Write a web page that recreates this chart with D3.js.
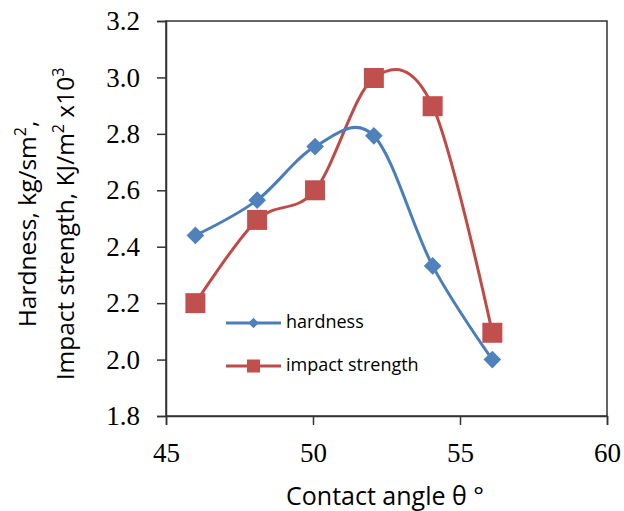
<!DOCTYPE html>
<html><head><meta charset="utf-8">
<script src="https://cdn.jsdelivr.net/npm/d3@7"></script>
<style>body{margin:0;background:#fff}svg{display:block}</style>
</head><body>
<svg id="c" width="624" height="511"></svg>
<script>
const angles = [46, 48.1, 50.07, 52.07, 54.07, 56.1];
const hardness = [2.44, 2.565, 2.755, 2.793, 2.332, 2.0];
const impact = [2.2, 2.495, 2.6, 2.998, 2.898, 2.095];
const xTicks = [45, 50, 55, 60];
const yTicks = [1.8, 2.0, 2.2, 2.4, 2.6, 2.8, 3.0, 3.2];
const seriesNames = ["hardness", "impact strength"];

const svg = d3.select("#c");
const x = d3.scaleLinear().domain([45, 60]).range([166, 607]);
const y = d3.scaleLinear().domain([1.8, 3.2]).range([416, 21]);

const serif = "'Liberation Serif','Times New Roman',serif";
const sans = "'Open Sans','Noto Sans',sans-serif";

// frame
svg.append("rect").attr("x", x(45)).attr("y", y(3.2))
  .attr("width", x(60) - x(45)).attr("height", y(1.8) - y(3.2))
  .attr("fill", "none").attr("stroke", "#333").attr("stroke-width", 1.5);

const yAxis = svg.append("g").attr("transform", `translate(${x(45)},0)`)
  .call(d3.axisLeft(y).tickValues(yTicks).tickFormat(d3.format(".1f")).tickSize(9).tickPadding(17));
const xAxis = svg.append("g").attr("transform", `translate(0,${y(1.8)})`)
  .call(d3.axisBottom(x).tickValues(xTicks).tickFormat(d3.format("d")).tickSize(9).tickPadding(18));
[yAxis, xAxis].forEach(a => {
  a.select(".domain").attr("stroke", "#333").attr("stroke-width", 1.5);
  a.selectAll(".tick line").attr("stroke", "#333").attr("stroke-width", 1.5);
  a.selectAll(".tick text").attr("font-family", serif).attr("font-size", 27).attr("fill", "#000");
});

const line = d3.line().curve(d3.curveCardinal.tension(0)).x(d => x(d[0])).y(d => y(d[1]));
const hData = angles.map((a, i) => [a, hardness[i]]);
const iData = angles.map((a, i) => [a, impact[i]]);

const blueLine = "#4A7EBB", blueMark = "#4F81BD", redLine = "#BE4B48", redMark = "#C0504D";

svg.append("path").datum(iData).attr("d", line).attr("fill", "none").attr("stroke", redLine).attr("stroke-width", 3);
svg.append("path").datum(hData).attr("d", line).attr("fill", "none").attr("stroke", blueLine).attr("stroke-width", 3);

function diamond(g, cx, cy, s, c) {
  g.append("rect").attr("x", cx - s / 2).attr("y", cy - s / 2).attr("width", s).attr("height", s)
    .attr("fill", c).attr("transform", `rotate(45 ${cx} ${cy})`);
}
function square(g, cx, cy, s, c) {
  g.append("rect").attr("x", cx - s / 2).attr("y", cy - s / 2).attr("width", s).attr("height", s).attr("fill", c);
}
iData.forEach(d => square(svg, x(d[0]), y(d[1]), 20, redMark));
hData.forEach(d => diamond(svg, x(d[0]), y(d[1]), 12.5, blueMark));

// legend
const lg = svg.append("g");
const legY = [323, 366];
lg.append("line").attr("x1", 226).attr("x2", 281).attr("y1", legY[0]).attr("y2", legY[0]).attr("stroke", blueLine).attr("stroke-width", 3);
diamond(lg, 253.5, legY[0], 7.5, blueMark);
lg.append("line").attr("x1", 226).attr("x2", 281).attr("y1", legY[1]).attr("y2", legY[1]).attr("stroke", redLine).attr("stroke-width", 3);
square(lg, 253.5, legY[1], 13, redMark);
seriesNames.forEach((n, i) => {
  lg.append("text").attr("x", 286).attr("y", legY[i]).attr("dy", "0.3em")
    .attr("font-family", sans).attr("font-size", 18).attr("fill", "#000").text(n);
});

// x title
svg.append("text").attr("x", 385).attr("y", 505).attr("text-anchor", "middle")
  .attr("font-family", sans).attr("font-size", 25).attr("fill", "#000").text("Contact angle θ °");

// y title
const yt = svg.append("text").attr("transform", "translate(0,224) rotate(-90)")
  .attr("text-anchor", "middle").attr("font-family", sans).attr("font-size", 24.5).attr("fill", "#000");
const l1 = yt.append("tspan").attr("x", 0).attr("y", 36);
l1.append("tspan").text("Hardness, kg/sm");
l1.append("tspan").attr("dy", -10).attr("font-size", 16).text("2");
l1.append("tspan").attr("dy", 10).text(",");
const l2 = yt.append("tspan").attr("x", 0).attr("y", 74);
l2.append("tspan").text("Impact strength, KJ/m");
l2.append("tspan").attr("dy", -10).attr("font-size", 16).text("2");
l2.append("tspan").attr("dy", 10).text(" x10");
l2.append("tspan").attr("dy", -10).attr("font-size", 16).text("3");
</script>
</body></html>
